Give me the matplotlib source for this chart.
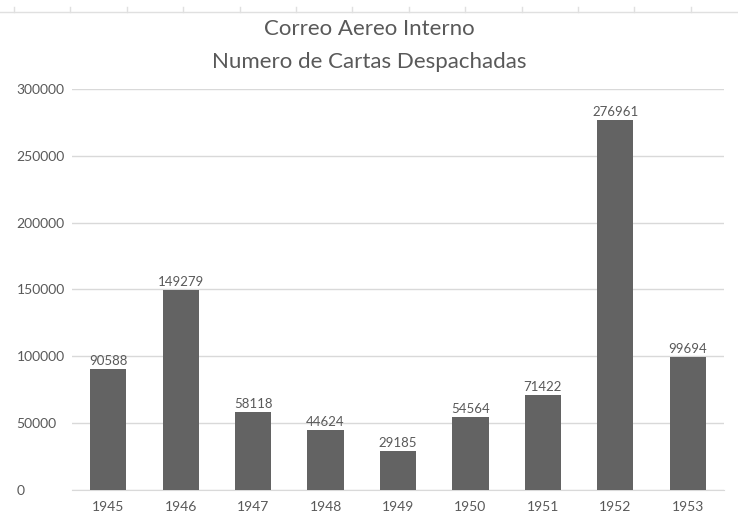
import matplotlib
matplotlib.use('Agg')
import matplotlib.pyplot as plt
from matplotlib.lines import Line2D

plt.rcParams['font.family'] = ['Lato', 'DejaVu Sans']

years = ['1945', '1946', '1947', '1948', '1949', '1950', '1951', '1952', '1953']
cartas = [90588, 149279, 58118, 44624, 29185, 54564, 71422, 276961, 99694]
y_ticks = [0, 50000, 100000, 150000, 200000, 250000, 300000]

text_color = '#595959'
bar_color = '#636363'
grid_color = '#d9d9d9'

fig = plt.figure(figsize=(7.38, 5.13), dpi=100)
ax = fig.add_axes([0.0976, 0.0448, 0.8834, 0.782])

x = range(len(years))
ax.bar(x, cartas, width=0.5, color=bar_color, zorder=3)
for i, v in enumerate(cartas):
    ax.text(i, v + 1500, str(v), ha='center', va='bottom', fontsize=9.5, color=text_color)

ax.set_xlim(-0.5, len(years) - 0.5)
ax.set_ylim(0, 300000)
ax.set_yticks(y_ticks)
ax.set_yticklabels([str(t) for t in y_ticks])
ax.set_xticks(list(x))
ax.set_xticklabels(years)
ax.tick_params(axis='both', length=0, labelsize=10, colors=text_color)
ax.tick_params(axis='x', pad=8)
ax.tick_params(axis='y', pad=40)
for lbl in ax.get_yticklabels():
    lbl.set_horizontalalignment('left')
ax.grid(axis='y', color=grid_color, linewidth=1, zorder=0)
for s in ['top', 'right', 'left']:
    ax.spines[s].set_visible(False)
ax.spines['bottom'].set_color(grid_color)

fig.text(0.5, 0.944, 'Correo Aereo Interno', ha='center', va='center', fontsize=16, color=text_color)
fig.text(0.5, 0.880, 'Numero de Cartas Despachadas', ha='center', va='center', fontsize=16, color=text_color)

# faint header line left over from the spreadsheet crop
fig.add_artist(Line2D([0.0, 1.0], [0.977, 0.977], color='#e0e0e0', linewidth=1))
for k in range(14):
    xp = (14 + 56.4 * k) / 738
    if xp < 1:
        fig.add_artist(Line2D([xp, xp], [0.977, 0.987], color='#e0e0e0', linewidth=1))

fig.savefig('out.png', dpi=100)
